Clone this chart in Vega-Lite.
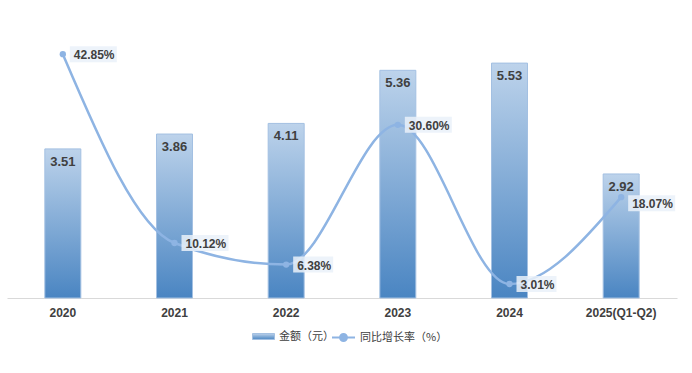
{
  "$schema": "https://vega.github.io/schema/vega-lite/v6.json",
  "width": 670,
  "height": 288,
  "padding": {"left": 7, "top": 10, "right": 5, "bottom": 5},
  "background": "white",
  "config": {
    "view": {"stroke": null},
    "font": "Liberation Sans",
    "text": {"font": "Liberation Sans"}
  },
  "data": {
    "values": [
      {"year": "2020", "amount": 3.51, "rate": 42.85, "rateLabel": "42.85%"},
      {"year": "2021", "amount": 3.86, "rate": 10.12, "rateLabel": "10.12%"},
      {"year": "2022", "amount": 4.11, "rate": 6.38, "rateLabel": "6.38%"},
      {"year": "2023", "amount": 5.36, "rate": 30.60, "rateLabel": "30.60%"},
      {"year": "2024", "amount": 5.53, "rate": 3.01, "rateLabel": "3.01%"},
      {"year": "2025(Q1-Q2)", "amount": 2.92, "rate": 18.07, "rateLabel": "18.07%"}
    ]
  },
  "encoding": {
    "x": {
      "field": "year", "type": "nominal", "sort": null,
      "scale": {"paddingInner": 0, "paddingOuter": 0},
      "axis": {
        "title": null, "labelAngle": 0, "ticks": false,
        "domainColor": "#d9d9d9", "domainWidth": 1,
        "labelFontSize": 12, "labelFontWeight": "bold", "labelColor": "#404040",
        "labelPadding": 9, "grid": false
      }
    }
  },
  "layer": [
    {
      "layer": [
        {
          "mark": {
            "type": "bar", "width": 36, "strokeWidth": 1,
            "fill": {
              "gradient": "linear", "x1": 0, "y1": 0, "x2": 0, "y2": 1,
              "stops": [
                {"offset": 0, "color": "#bdd3eb"},
                {"offset": 1, "color": "#4a85c2"}
              ]
            }
          },
          "encoding": {
            "y": {"field": "amount", "type": "quantitative", "scale": {"domain": [0, 6.78]}, "axis": null},
            "stroke": {
              "datum": "金额（元）", "type": "nominal",
              "scale": {"range": ["#a3c0e2"]},
              "legend": {
                "title": null, "orient": "none", "direction": "horizontal",
                "legendX": 245, "legendY": 315,
                "symbolType": "M-1,-0.27H1V0.27H-1Z",
                "symbolSize": 484, "symbolStrokeWidth": 1,
                "labelFontSize": 11, "labelColor": "#404040", "labelFont": "Noto Sans CJK SC",
                "labelOffset": 4
              }
            }
          }
        },
        {
          "mark": {"type": "text", "baseline": "middle", "dy": 13, "fontSize": 13, "fontWeight": "bold", "color": "#404040"},
          "encoding": {
            "y": {"field": "amount", "type": "quantitative", "scale": {"domain": [0, 6.78]}, "axis": null},
            "text": {"field": "amount", "type": "quantitative", "format": ".2f"}
          }
        }
      ]
    },
    {
      "layer": [
        {
          "mark": {"type": "line", "interpolate": "monotone", "strokeWidth": 2.5, "point": {"filled": true, "size": 40, "color": "#8eb4e3"}},
          "encoding": {
            "y": {"field": "rate", "type": "quantitative", "scale": {"domain": [0.59, 50.5]}, "axis": null},
            "color": {
              "datum": "同比增长率（%）", "type": "nominal",
              "scale": {"range": ["#8eb4e3"]},
              "legend": {
                "title": null, "orient": "none", "direction": "horizontal",
                "legendX": 324, "legendY": 315,
                "symbolType": "M-1,0H1M0.3,0A0.3,0.3 0 1,1 -0.3,0A0.3,0.3 0 1,1 0.3,0Z",
                "symbolSize": 529, "symbolStrokeWidth": 2, "symbolFillColor": "#8eb4e3", "symbolStrokeColor": "#8eb4e3",
                "labelFontSize": 11, "labelColor": "#404040", "labelFont": "Noto Sans CJK SC",
                "labelOffset": 4
              }
            }
          }
        },
        {
          "mark": {
            "type": "point", "filled": true, "size": 400, "color": "#eaf1f9", "opacity": 0.85, "strokeWidth": 0,
            "shape": {"expr": "datum.year == '2025(Q1-Q2)' ? 'M0.7,-0.2H5.4V1.4H0.7Z' : (datum.rate < 10 ? 'M0.7,-0.8H4.7V0.8H0.7Z' : 'M0.7,-0.8H5.4V0.8H0.7Z')"}
          },
          "encoding": {
            "y": {"field": "rate", "type": "quantitative", "scale": {"domain": [0.59, 50.5]}, "axis": null}
          }
        },
        {
          "mark": {"type": "text", "align": "left", "baseline": "middle", "dx": 11, "dy": {"expr": "datum.year == '2025(Q1-Q2)' ? 7 : 1"}, "fontSize": 12, "fontWeight": "bold", "color": "#404040"},
          "encoding": {
            "y": {"field": "rate", "type": "quantitative", "scale": {"domain": [0.59, 50.5]}, "axis": null},
            "text": {"field": "rateLabel"}
          }
        }
      ]
    }
  ],
  "resolve": {"scale": {"y": "independent"}}
}
